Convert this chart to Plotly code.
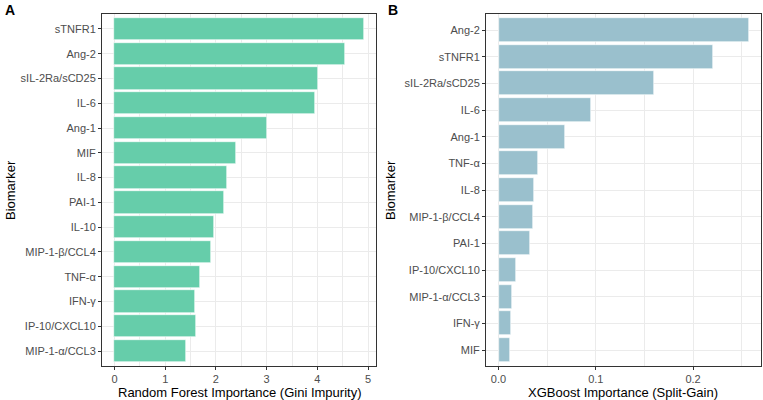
import plotly.graph_objects as go

# 数据（从上到下排列）
rf_markers = ['sTNFR1', 'Ang-2', 'sIL-2Ra/sCD25', 'IL-6', 'Ang-1', 'MIF', 'IL-8',
              'PAI-1', 'IL-10', 'MIP-1-β/CCL4', 'TNF-α', 'IFN-γ', 'IP-10/CXCL10',
              'MIP-1-α/CCL3']
rf_importance = [4.91, 4.55, 4.02, 3.96, 3.00, 2.39, 2.21, 2.15, 1.96, 1.90,
                 1.69, 1.59, 1.60, 1.41]

xgb_markers = ['Ang-2', 'sTNFR1', 'sIL-2Ra/sCD25', 'IL-6', 'Ang-1', 'TNF-α', 'IL-8',
               'MIP-1-β/CCL4', 'PAI-1', 'IP-10/CXCL10', 'MIP-1-α/CCL3', 'IFN-γ', 'MIF']
xgb_importance = [0.257, 0.221, 0.160, 0.095, 0.068, 0.041, 0.036, 0.035, 0.032,
                  0.018, 0.014, 0.013, 0.012]

FONT = 'Arial, Liberation Sans, sans-serif'
GRID = '#EBEBEB'
TICK_TXT = '#4D4D4D'
BORDER = '#333333'

fig = go.Figure()
fig.add_trace(go.Bar(
    x=rf_importance, y=rf_markers, orientation='h', width=0.9,
    marker=dict(color='#66CDAA', line=dict(color='white', width=0.6)),
    xaxis='x', yaxis='y', showlegend=False,
))
fig.add_trace(go.Bar(
    x=xgb_importance, y=xgb_markers, orientation='h', width=0.9,
    marker=dict(color='#9AC0CD', line=dict(color='white', width=0.6)),
    xaxis='x2', yaxis='y2', showlegend=False,
))

y0, y1 = 34 / 400, 386 / 400


def xaxis_style(domain, rng, tickvals, ticktext, minor_vals):
    return dict(
        domain=domain, range=rng,
        tickvals=tickvals, ticktext=ticktext,
        showgrid=True, gridcolor=GRID, gridwidth=1,
        minor=dict(tickvals=minor_vals, showgrid=True, gridcolor=GRID, gridwidth=0.5, ticks=''),
        showline=True, linecolor=BORDER, linewidth=1, mirror=True,
        ticks='outside', ticklen=3, tickcolor=BORDER, tickwidth=1,
        tickfont=dict(family=FONT, size=11, color=TICK_TXT),
        zeroline=False, fixedrange=True,
    )


def yaxis_style(cats):
    n = len(cats)
    return dict(
        domain=[y0, y1], type='category', categoryorder='array', categoryarray=cats,
        range=[n - 1 + 0.6, -0.6],
        showgrid=True, gridcolor=GRID, gridwidth=1,
        showline=True, linecolor=BORDER, linewidth=1, mirror=True,
        ticks='outside', ticklen=3, tickcolor=BORDER, tickwidth=1,
        tickfont=dict(family=FONT, size=11, color=TICK_TXT),
        zeroline=False, fixedrange=True,
    )


xa = xaxis_style([102 / 763, 376 / 763], [-0.2455, 5.1555],
                 [0, 1, 2, 3, 4, 5], ['0', '1', '2', '3', '4', '5'],
                 [0.5, 1.5, 2.5, 3.5, 4.5])
xa['anchor'] = 'y'
xb = xaxis_style([486 / 763, 761 / 763], [-0.01285, 0.26985],
                 [0, 0.1, 0.2], ['0.0', '0.1', '0.2'],
                 [0.05, 0.15, 0.25])
xb['anchor'] = 'y2'
ya = yaxis_style(rf_markers)
ya['anchor'] = 'x'
yb = yaxis_style(xgb_markers)
yb['anchor'] = 'x2'

annotations = [
    dict(text='<b>A</b>', x=3 / 763, y=1 - 10 / 400, xanchor='left', yanchor='middle',
         font=dict(family=FONT, size=14, color='black')),
    dict(text='<b>B</b>', x=386 / 763, y=1 - 10 / 400, xanchor='left', yanchor='middle',
         font=dict(family=FONT, size=14, color='black')),
    dict(text='Random Forest Importance (Gini Impurity)', x=239 / 763, y=1 - 392 / 400,
         xanchor='center', yanchor='middle', font=dict(family=FONT, size=13, color='black')),
    dict(text='XGBoost Importance (Split-Gain)', x=623 / 763, y=1 - 392 / 400,
         xanchor='center', yanchor='middle', font=dict(family=FONT, size=13, color='black')),
    dict(text='Biomarker', x=10 / 763, y=1 - 190 / 400, textangle=-90,
         xanchor='center', yanchor='middle', font=dict(family=FONT, size=13, color='black')),
    dict(text='Biomarker', x=390 / 763, y=1 - 190 / 400, textangle=-90,
         xanchor='center', yanchor='middle', font=dict(family=FONT, size=13, color='black')),
]
for a in annotations:
    a.update(xref='paper', yref='paper', showarrow=False)

fig.update_layout(
    width=763, height=400,
    margin=dict(l=0, r=0, t=0, b=0),
    paper_bgcolor='white', plot_bgcolor='white',
    xaxis=xa, yaxis=ya, xaxis2=xb, yaxis2=yb,
    annotations=annotations,
    bargap=0,
    font=dict(family=FONT),
)

# 去掉页面默认边距，让图正好填满窗口
fig.write_html('out.html', config={'displayModeBar': False},
               post_script="document.body.style.margin='0';")
